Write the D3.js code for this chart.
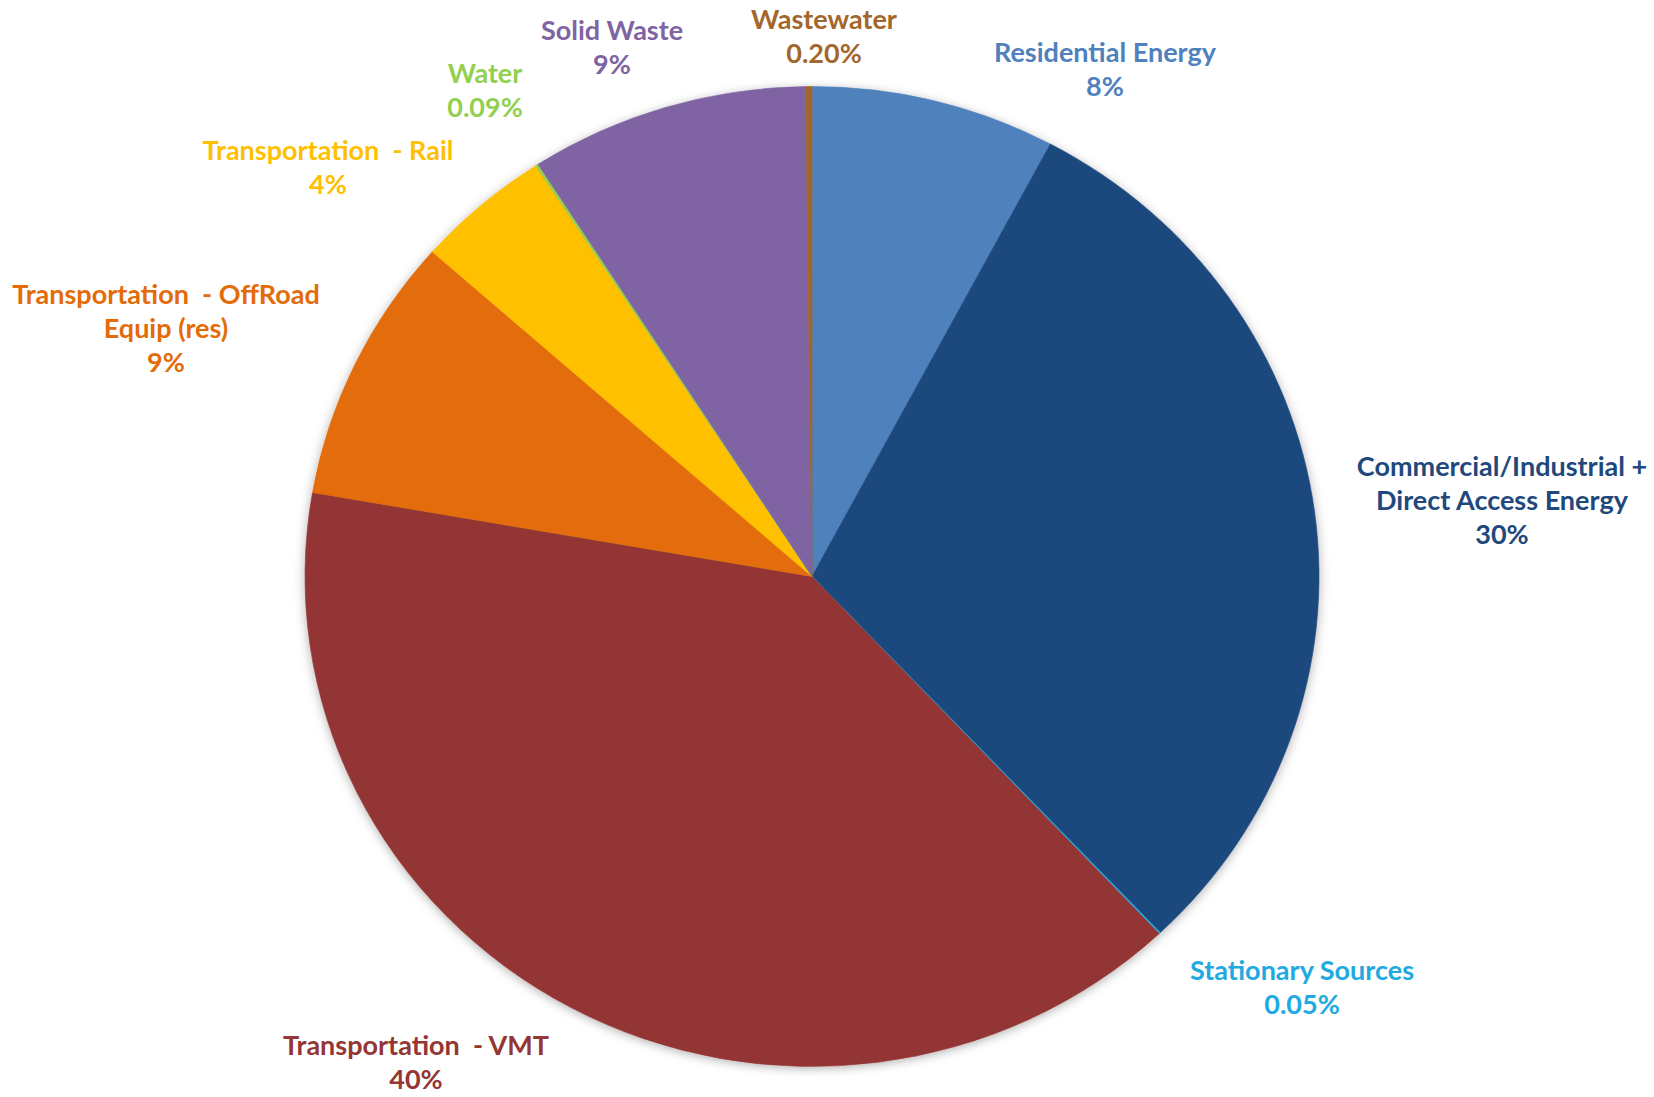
<!DOCTYPE html>
<html>
<head>
<meta charset="utf-8">
<title>Emissions by sector</title>
<script src="https://d3js.org/d3.v7.min.js"></script>
<style>
  html, body { margin: 0; padding: 0; background: #fff; }
  text { font-family: "Lato", "Open Sans", sans-serif; font-weight: 700; white-space: pre; }
</style>
</head>
<body>
<div id="chart"></div>
<script>
// sectors, clockwise from 12 o'clock
var sectors = ["Residential Energy", "Commercial/Industrial +\nDirect Access Energy", "Stationary Sources",
    "Transportation  - VMT", "Transportation  - OffRoad\nEquip (res)", "Transportation  - Rail",
    "Water", "Solid Waste", "Wastewater"]
// share of total (%)
var shares = [7.8, 30.2, 0.05, 39.8, 8.8, 4.3, 0.09, 8.9, 0.2]
var colors = ["#4f81bd", "#1f497d", "#21a9e1", "#943634", "#e36c09", "#ffc000", "#92d050", "#8064a2", "#a3662b"]

// where the labels sit (centre x, first baseline y)
var labelAt = [[1105, 62], [1502, 476], [1302, 980], [416, 1055], [166, 304], [328, 160], [485, 83], [612, 40], [824, 29]]

var width = 1654, height = 1097
var cx = 812, cy = 576.5, rx = 507, ry = 490
var lineH = 34

var svg = d3.select("#chart").append("svg")
    .attr("width", width)
    .attr("height", height)

var defs = svg.append("defs")
var f = defs.append("filter").attr("id", "shadow")
    .attr("x", "-10%").attr("y", "-10%").attr("width", "120%").attr("height", "120%")
f.append("feDropShadow")
    .attr("dx", 0).attr("dy", 2)
    .attr("stdDeviation", 5)
    .attr("flood-color", "#000")
    .attr("flood-opacity", 0.3)

var pie = d3.pie().sort(null).value(function(d) { return d })
var arc = d3.arc().innerRadius(0).outerRadius(ry)

var g = svg.append("g")
    .attr("transform", "translate(" + cx + "," + cy + ") scale(" + (rx / ry) + ",1)")

var slices = g.append("g").attr("filter", "url(#shadow)")
slices.selectAll("path")
    .data(pie(shares))
    .enter()
    .append("path")
    .attr("d", arc)
    .style("fill", function(d, i) { return colors[i] })
    .style("stroke", function(d, i) { return colors[i] })
    .style("stroke-width", 0.6)

var fmt = function(v) { return v >= 1 ? d3.format(".0f")(v) + "%" : d3.format(".2f")(v) + "%" }

var labels = svg.append("g")
labels.selectAll("text")
    .data(sectors)
    .enter()
    .append("text")
    .attr("text-anchor", "middle")
    .attr("font-size", 27)
    .style("fill", function(d, i) { return colors[i] })
    .each(function(d, i) {
        var lines = d.split("\n").concat([fmt(shares[i])])
        var t = d3.select(this)
        lines.forEach(function(l, k) {
            t.append("tspan")
                .attr("x", labelAt[i][0])
                .attr("y", labelAt[i][1] + k * lineH)
                .text(l)
        })
    })
</script>
</body>
</html>
